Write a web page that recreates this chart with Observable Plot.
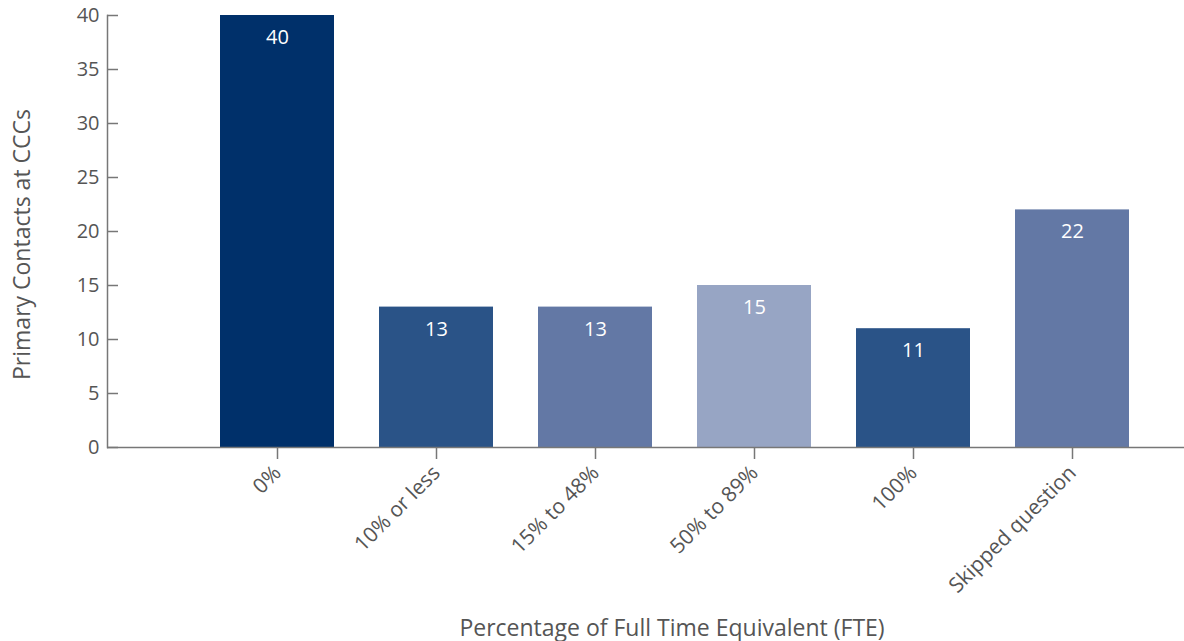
<!DOCTYPE html>
<html>
<head>
<meta charset="utf-8">
<script src="https://cdn.jsdelivr.net/npm/d3@7"></script>
<script src="https://cdn.jsdelivr.net/npm/@observablehq/plot@0.6"></script>
<style>
  html, body { margin: 0; padding: 0; background: #fff; }
  svg { font-family: "Open Sans", "Noto Sans", sans-serif; }
</style>
</head>
<body>
<div id="chart"></div>
<script>
const categories = ["0%", "10% or less", "15% to 48%", "50% to 89%", "100%", "Skipped question"];
const counts = [40, 13, 13, 15, 11, 22];
const barColors = ["#00306a", "#2a5387", "#6378a5", "#97a5c4", "#2a5387", "#6378a5"];
const yTicks = [0, 5, 10, 15, 20, 25, 30, 35, 40];
const xTitle = "Percentage of Full Time Equivalent (FTE)";
const yTitle = "Primary Contacts at CCCs";

const data = categories.map((c, i) => ({category: c, count: counts[i]}));

const chart = Plot.plot({
  width: 1184,
  height: 641,
  marginLeft: 107,
  marginRight: 0,
  marginTop: 15,
  marginBottom: 194,
  style: {fontFamily: "'Open Sans', 'Noto Sans', sans-serif", color: "#555", background: "#fff"},
  x: {domain: categories, range: [175, 1175], padding: 0.28},
  y: {domain: [0, 40]},
  color: {domain: categories, range: barColors},
  marks: [
    Plot.barY(data, {x: "category", y: "count", fill: "category"}),
    Plot.text(data, {x: "category", y: "count", text: d => String(d.count), dy: 22, fill: "white", fontSize: 20}),
    Plot.ruleY([0], {stroke: "#777", strokeWidth: 1.5}),
    Plot.frame({anchor: "left", stroke: "#777", strokeWidth: 1.5}),
    Plot.axisY({ticks: yTicks, tickSize: -11, tickPadding: 19, fontSize: 20, stroke: "#777", strokeWidth: 1.5, label: null, color: "#555"}),
    Plot.axisX({tickRotate: -45, tickSize: 12, tickPadding: 10, fontSize: 21, stroke: "#777", strokeWidth: 1.5, label: null, color: "#555"}),
    Plot.text([yTitle], {frameAnchor: "left", textAnchor: "middle", rotate: -90, dx: -85, dy: 13, fontSize: 23, fill: "#555"}),
    Plot.text([xTitle], {frameAnchor: "bottom", textAnchor: "middle", dx: 26, dy: 188, fontSize: 23, fill: "#555"})
  ]
});
document.getElementById("chart").appendChild(chart);
</script>
</body>
</html>
